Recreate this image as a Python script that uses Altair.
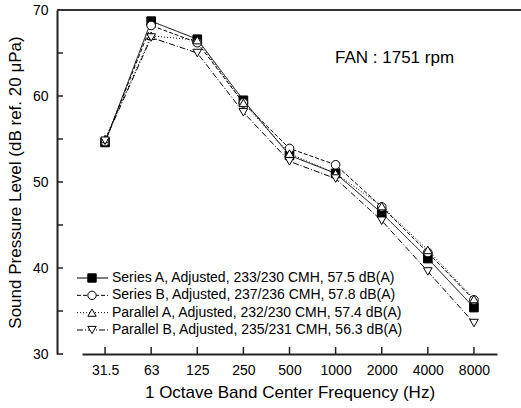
import altair as alt
import pandas as pd

freqs = ["31.5", "63", "125", "250", "500", "1000", "2000", "4000", "8000"]
names = [
    "Series A, Adjusted, 233/230 CMH, 57.5 dB(A)",
    "Series B, Adjusted, 237/236 CMH, 57.8 dB(A)",
    "Parallel A, Adjusted, 232/230 CMH, 57.4 dB(A)",
    "Parallel B, Adjusted, 235/231 CMH, 56.3 dB(A)",
]
series_a = [54.6, 68.7, 66.6, 59.5, 53.1, 51.0, 46.4, 41.1, 35.4]
series_b = [54.7, 68.2, 66.2, 59.2, 53.9, 52.0, 47.1, 41.8, 36.3]
parallel_a = [55.0, 67.0, 66.5, 59.2, 53.3, 51.0, 47.2, 42.1, 36.4]
parallel_b = [54.8, 66.8, 65.0, 58.1, 52.4, 50.4, 45.5, 39.6, 33.6]
y_ticks = [30, 35, 40, 45, 50, 55, 60, 65, 70]
y_labels = [30, 40, 50, 60, 70]

shapes = ["square", "circle", "triangle-up", "triangle-down"]
fills = ["black", "white", "white", "white"]
dashes = [[1, 0], [4, 2], [1, 2], [6, 2, 1, 2]]

rows = []
for name, vals in zip(names, [series_a, series_b, parallel_a, parallel_b]):
    for f, v in zip(freqs, vals):
        rows.append({"series": name, "freq": f, "spl": v})
df = pd.DataFrame(rows)
leg = pd.DataFrame({"series": names, "idx": list(range(len(names)))})

FONT = "Liberation Sans"
W, H = 464, 344

xs = alt.X("freq:O", sort=freqs,
           scale=alt.Scale(type="point", domain=freqs, range=[25, 440]),
           axis=alt.Axis(title="1 Octave Band Center Frequency (Hz)", labelAngle=0,
                         ticks=False, labelPadding=9, titlePadding=7))
ys = alt.Y("spl:Q", scale=alt.Scale(domain=[30, 70], nice=False, zero=False),
           axis=alt.Axis(title="Sound Pressure Level (dB ref. 20 μPa)", values=y_labels,
                         ticks=False, labelPadding=9, titlePadding=8))

dash_enc = alt.StrokeDash("series:N", scale=alt.Scale(domain=names, range=dashes), legend=None)
shape_enc = alt.Shape("series:N", scale=alt.Scale(domain=names, range=shapes), legend=None)
fill_enc = alt.Fill("series:N", scale=alt.Scale(domain=names, range=fills), legend=None)

base = alt.Chart(df)
lines = base.mark_line(color="black", strokeWidth=1).encode(x=xs, y=ys, strokeDash=dash_enc, detail="series:N")
points = base.mark_point(stroke="black", strokeWidth=1, opacity=1, size=75, filled=False).encode(
    x=xs, y=ys, shape=shape_enc, fill=fill_enc)

ytick_df = pd.DataFrame({"spl": y_ticks})
yticks = alt.Chart(ytick_df).mark_rule(color="#222", strokeWidth=1.5).encode(
    y=alt.Y("spl:Q"), x=alt.value(0), x2=alt.value(6))
xtick_df = pd.DataFrame({"freq": freqs})
xticks = alt.Chart(xtick_df).mark_rule(color="#222", strokeWidth=1.5).encode(
    x=alt.X("freq:O", sort=freqs), y=alt.value(H), y2=alt.value(H - 7))
top = alt.Chart(xtick_df).mark_rule(color="#333", strokeWidth=2).encode(
    x=alt.value(0), x2=alt.value(W), y=alt.value(0))
fan = alt.Chart(pd.DataFrame({"t": ["FAN : 1751 rpm"]})).mark_text(
    font=FONT, fontSize=17, align="left", baseline="middle", color="black").encode(
    text="t:N", x=alt.value(278), y=alt.value(48))

main = alt.layer(lines, yticks, xticks, top, points, fan)

ly = alt.Y("idx:Q", scale=alt.Scale(domain=[0, 3], range=[268, 320]), axis=None)
leg_base = alt.Chart(leg)
leg_lines = leg_base.mark_rule(color="black", strokeWidth=1).encode(
    y=ly, x=alt.value(20), x2=alt.value(51), strokeDash=dash_enc)
leg_pts = leg_base.mark_point(stroke="black", strokeWidth=1, opacity=1, size=70).encode(
    y=ly, x=alt.value(35), shape=shape_enc, fill=fill_enc)
leg_txt = leg_base.mark_text(font=FONT, fontSize=14, align="left", baseline="middle", color="black").encode(
    y=ly, x=alt.value(55), text="series:N")
legend = alt.layer(leg_lines, leg_pts, leg_txt)

chart = alt.layer(main, legend).resolve_scale(y="independent").properties(
    width=W, height=H,
    background="white",
    autosize=alt.AutoSizeParams(type="none"),
    padding={"left": 57, "top": 10, "right": 0, "bottom": 54},
).configure_view(stroke=None).configure_axis(
    labelFont=FONT, titleFont=FONT, labelFontSize=14, titleFontSize=17,
    labelColor="black", titleColor="black", titleFontWeight="normal",
    domainColor="#222", domainWidth=2, grid=False,
)

chart.save("out.html", embed_options={"renderer": "svg", "actions": False})
